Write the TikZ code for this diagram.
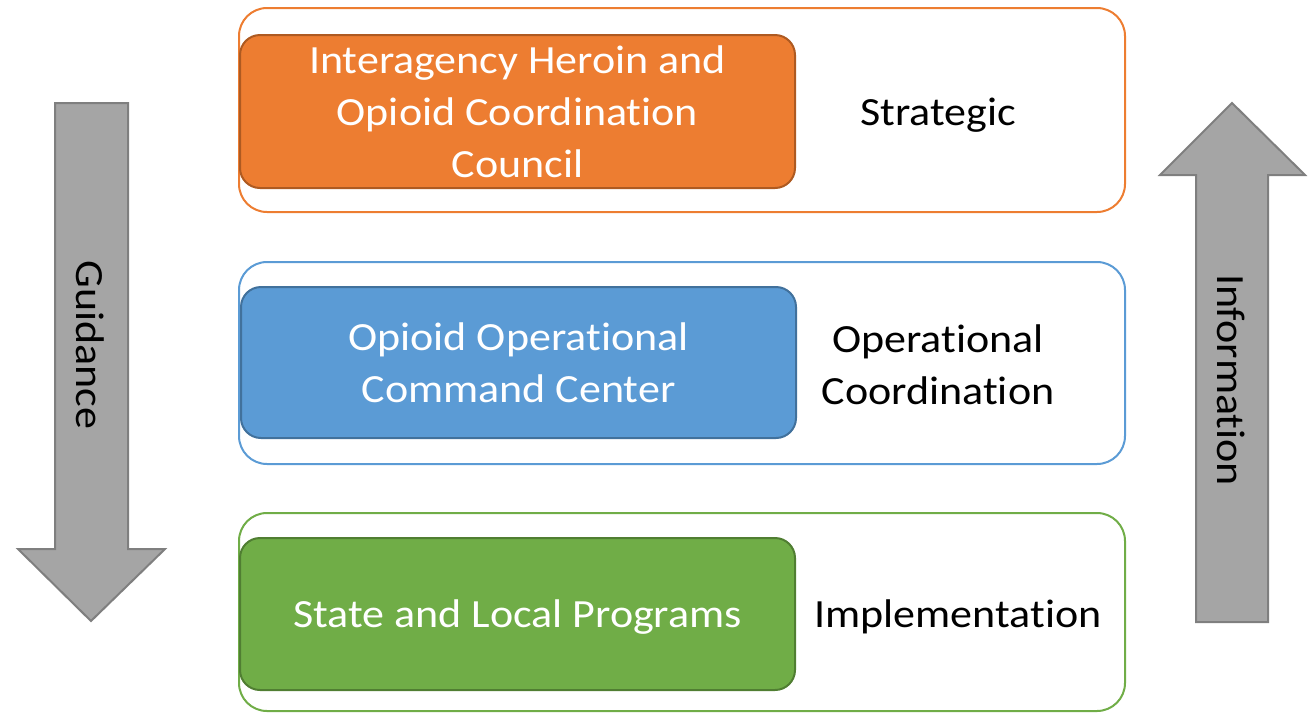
\documentclass[tikz,border=0pt]{standalone}
\usepackage{fontspec}
\setmainfont{Carlito}[FakeStretch=1.1,Ligatures={NoCommon,NoRequired,NoContextual}]
\definecolor{orgF}{HTML}{ED7D31}
\definecolor{orgD}{HTML}{AE5A21}
\definecolor{bluF}{HTML}{5B9BD5}
\definecolor{bluD}{HTML}{41719C}
\definecolor{grnF}{HTML}{70AD47}
\definecolor{grnD}{HTML}{507E32}
\definecolor{arrF}{HTML}{A5A5A5}
\definecolor{arrD}{HTML}{7F7F7F}
\begin{document}
\begin{tikzpicture}[x=1pt,y=-1pt,
  txt/.style={font=\fontsize{40}{52}\selectfont, align=center},
  outerbox/.style={draw, line width=2pt, rounded corners=28pt, minimum width=886pt, inner sep=0pt},
  innerbox/.style={line width=2pt, rounded corners=20pt, minimum width=555pt, inner sep=0pt, text=white, txt},
  bigarrow/.style={fill=arrF, draw=arrD, line width=2pt, line join=miter}]
\useasboundingbox (0,0) rectangle (1312,713);
% outer layers
\node[outerbox, draw=orgF, minimum height=204pt] (layS) at (682,110) {};
\node[outerbox, draw=bluF, minimum height=202pt] (layO) at (682,363) {};
\node[outerbox, draw=grnF, minimum height=198pt] (layI) at (682,612) {};
% inner boxes
\node[innerbox, fill=orgF, draw=orgD, minimum height=153pt] (ihocc) at (517.5,111.5) {Interagency Heroin and\\Opioid Coordination\\Council};
\node[innerbox, fill=bluF, draw=bluD, minimum height=151pt] (oocc) at (518.5,362.5) {Opioid Operational\\Command Center};
\node[innerbox, fill=grnF, draw=grnD, minimum height=152pt] (slp) at (517.5,614) {};
\node[txt, text=white] (slpt) at (517.5,617) {State and Local Programs};
% labels
\node[txt] (strat) at (938,115) {Strategic};
\node[txt] (opco) at (938,365) {Operational\\Coordination};
\node[txt] (impl) at (958,617) {Implementation};
% arrows
\draw[bigarrow] (55,103) -- (128,103) -- (128,549) -- (165,549) -- (91,621) -- (18,549) -- (55,549) -- cycle;
\draw[bigarrow] (1196,622) -- (1268,622) -- (1268,175) -- (1305,175) -- (1232,103) -- (1160,175) -- (1196,175) -- cycle;
\node[txt, rotate=-90] (guid) at (90,345) {Guidance};
\node[txt, rotate=-90] (info) at (1231,380) {Information};
\end{tikzpicture}
\end{document}
